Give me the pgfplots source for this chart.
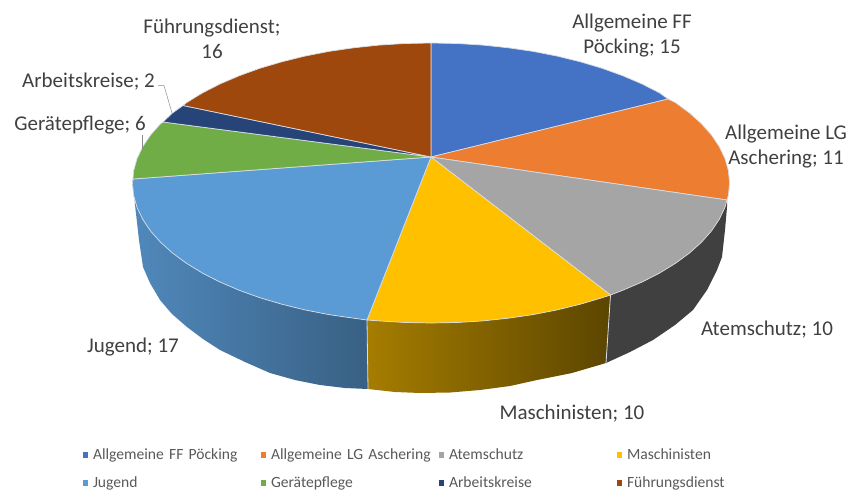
\documentclass[border=0pt]{standalone}
\usepackage{pgfplots}
\pgfplotsset{compat=1.18}
\usepackage{fontspec}
\setmainfont{Carlito}
\definecolor{cA}{HTML}{4472C4}
\definecolor{cB}{HTML}{ED7D31}
\definecolor{cC}{HTML}{A5A5A5}
\definecolor{cD}{HTML}{FFC000}
\definecolor{cE}{HTML}{5B9BD5}
\definecolor{cF}{HTML}{70AD47}
\definecolor{cG}{HTML}{264478}
\definecolor{cH}{HTML}{9E480E}
\definecolor{txt}{HTML}{404040}
\definecolor{legtxt}{HTML}{595959}
\definecolor{edge}{HTML}{D9DEE6}
\begin{document}
\begin{tikzpicture}
\useasboundingbox (0,0) rectangle (853pt,493pt);
\begin{axis}[
  at={(0,0)}, anchor=south west,
  hide axis, scale only axis, width=853pt, height=493pt,
  xmin=0, xmax=853, ymin=0, ymax=493, y dir=reverse, clip=false,
  legend columns=4,
  legend image code/.code={\path[#1,draw=none] (0pt,-3pt) rectangle (5.8pt,3pt);},
  legend style={at={(axis cs:82.5,469)}, anchor=west, draw=none, fill=none, inner sep=0pt, outer sep=0pt,
    row sep=14pt,
    nodes={inner sep=0pt, text width=163pt, align=left, text height=11pt, text depth=3pt, text=legtxt, font=\fontsize{15.6}{17}\selectfont},
    /tikz/every even column/.append style={column sep=4.5pt},
    /tikz/every odd column/.append style={column sep=4.7pt}},
]
% side walls
\addplot[forget plot, draw=none, left color=cE!88!black, right color=cE!62!black] coordinates {
(367,320)(353.7,318.2)(328.9,314.6)(304.9,309.9)(281.8,304.2)(259.8,297.7)(239.1,290.2)(219.9,282)(202.3,273)(186.5,263.3)(172.5,253)(160.5,242.2)(150.5,230.9)(142.7,219.2)(137,207.3)(133.6,195.2)(132.5,183)(133,179)
(135,205)(139,240)(143,267)(150,283)(160,300)(172,314)(187,327)(203,339)(220,350)(245,362)(270,373)(295,380)(320,385)(345,388)(368,389)} -- cycle;
\addplot[forget plot, draw=none, left color=cD!65!black, right color=cD!36!black] coordinates {
(367,320)(379.2,320.9)(405,322.5)(431,323)(457,322.5)(482.8,320.9)(508.3,318.2)(533.1,314.6)(557.1,309.9)(580.3,304.2)(602.2,297.7)(610.5,295)
(606,363)(572,373)(537,380)(510,386)(480,390)(450,392.5)(420,393)(395,392)(368,389)} -- cycle;
\addplot[forget plot, draw=none, fill=black!75] coordinates {
(610.5,295)(622.9,290.2)(642.1,282)(659.7,273)(675.5,263.3)(689.5,253)(701.5,242.2)(711.5,230.9)(719.3,219.2)(725,207.3)(727,200)
(727,207)(725,230)(722,257)(717,270)(707,290)(693,310)(675,325)(653,340)(630,352)(606,363)} -- cycle;
\addplot[forget plot, edge, line width=0.8pt] coordinates {(367,320)(368,389)};
\addplot[forget plot, edge, line width=0.8pt] coordinates {(610.5,295)(606,363)};
% top wedges: 15, 11, 10, 10, 17, 6, 2, 16
\addplot[fill=cA, draw=edge, line width=0.7pt] coordinates {(431,157)(431,43)(457,43.5)(482.8,45.1)(508.3,47.8)(533.1,51.4)(557.1,56.1)(580.3,61.8)(602.2,68.3)(622.9,75.8)(642.1,84)(659.7,93)(668,99)} -- cycle;
\addlegendentry{Allgemeine FF Pöcking}
\addplot[fill=cB, draw=edge, line width=0.7pt] coordinates {(431,157)(668,99)(675.5,102.7)(689.5,113)(701.5,123.8)(711.5,135.1)(719.3,146.8)(725,158.7)(728.4,170.8)(729.5,183)(728.4,195.2)(727,200)} -- cycle;
\addlegendentry{Allgemeine LG Aschering}
\addplot[fill=cC, draw=edge, line width=0.7pt] coordinates {(431,157)(727,200)(725,207.3)(719.3,219.2)(711.5,230.9)(701.5,242.2)(689.5,253)(675.5,263.3)(659.7,273)(642.1,282)(622.9,290.2)(610.5,295)} -- cycle;
\addlegendentry{Atemschutz}
\addplot[fill=cD, draw=edge, line width=0.7pt] coordinates {(431,157)(610.5,295)(602.2,297.7)(580.3,304.2)(557.1,309.9)(533.1,314.6)(508.3,318.2)(482.8,320.9)(457,322.5)(431,323)(405,322.5)(379.2,320.9)(367,320)} -- cycle;
\addlegendentry{Maschinisten}
\addplot[fill=cE, draw=edge, line width=0.7pt] coordinates {(431,157)(367,320)(353.7,318.2)(328.9,314.6)(304.9,309.9)(281.8,304.2)(259.8,297.7)(239.1,290.2)(219.9,282)(202.3,273)(186.5,263.3)(172.5,253)(160.5,242.2)(150.5,230.9)(142.7,219.2)(137,207.3)(133.6,195.2)(132.5,183)(133,179)} -- cycle;
\addlegendentry{Jugend}
\addplot[fill=cF, draw=edge, line width=0.7pt] coordinates {(431,157)(133,179)(133.6,170.8)(137,158.7)(142.7,146.8)(150.5,135.1)(160.5,123.8)(163,122)} -- cycle;
\addlegendentry{Gerätepflege}
\addplot[fill=cG, draw=edge, line width=0.7pt] coordinates {(431,157)(163,122)(172.5,113)(183,105.5)} -- cycle;
\addlegendentry{Arbeitskreise}
\addplot[fill=cH, draw=edge, line width=0.7pt] coordinates {(431,157)(183,105.5)(186.5,102.7)(202.3,93)(219.9,84)(239.1,75.8)(259.8,68.3)(281.8,61.8)(304.9,56.1)(328.9,51.4)(353.7,47.8)(379.2,45.1)(405,43.5)(431,43)} -- cycle;
\addlegendentry{Führungsdienst}
% leader lines
\addplot[forget plot, black!45, line width=0.5pt] coordinates {(158,85.5)(164,85.5)(172,113)};
\addplot[forget plot, black!45, line width=0.5pt] coordinates {(142,135)(142,150)};
% labels
\begin{scope}[every node/.style={text=txt, align=center, font=\fontsize{21}{25}\selectfont, inner sep=0pt}]
\node at (axis cs:632,36) {Allgemeine FF\\Pöcking; 15};
\node at (axis cs:786,147) {Allgemeine LG\\Aschering; 11};
\node at (axis cs:767,330) {Atemschutz; 10};
\node at (axis cs:572,414) {Maschinisten; 10};
\node at (axis cs:133,347) {Jugend; 17};
\node at (axis cs:80,125) {Gerätepflege; 6};
\node at (axis cs:88.5,82) {Arbeitskreise; 2};
\node at (axis cs:212,38.5) {Führungsdienst;\\16};
\end{scope}
\end{axis}
\end{tikzpicture}
\end{document}
